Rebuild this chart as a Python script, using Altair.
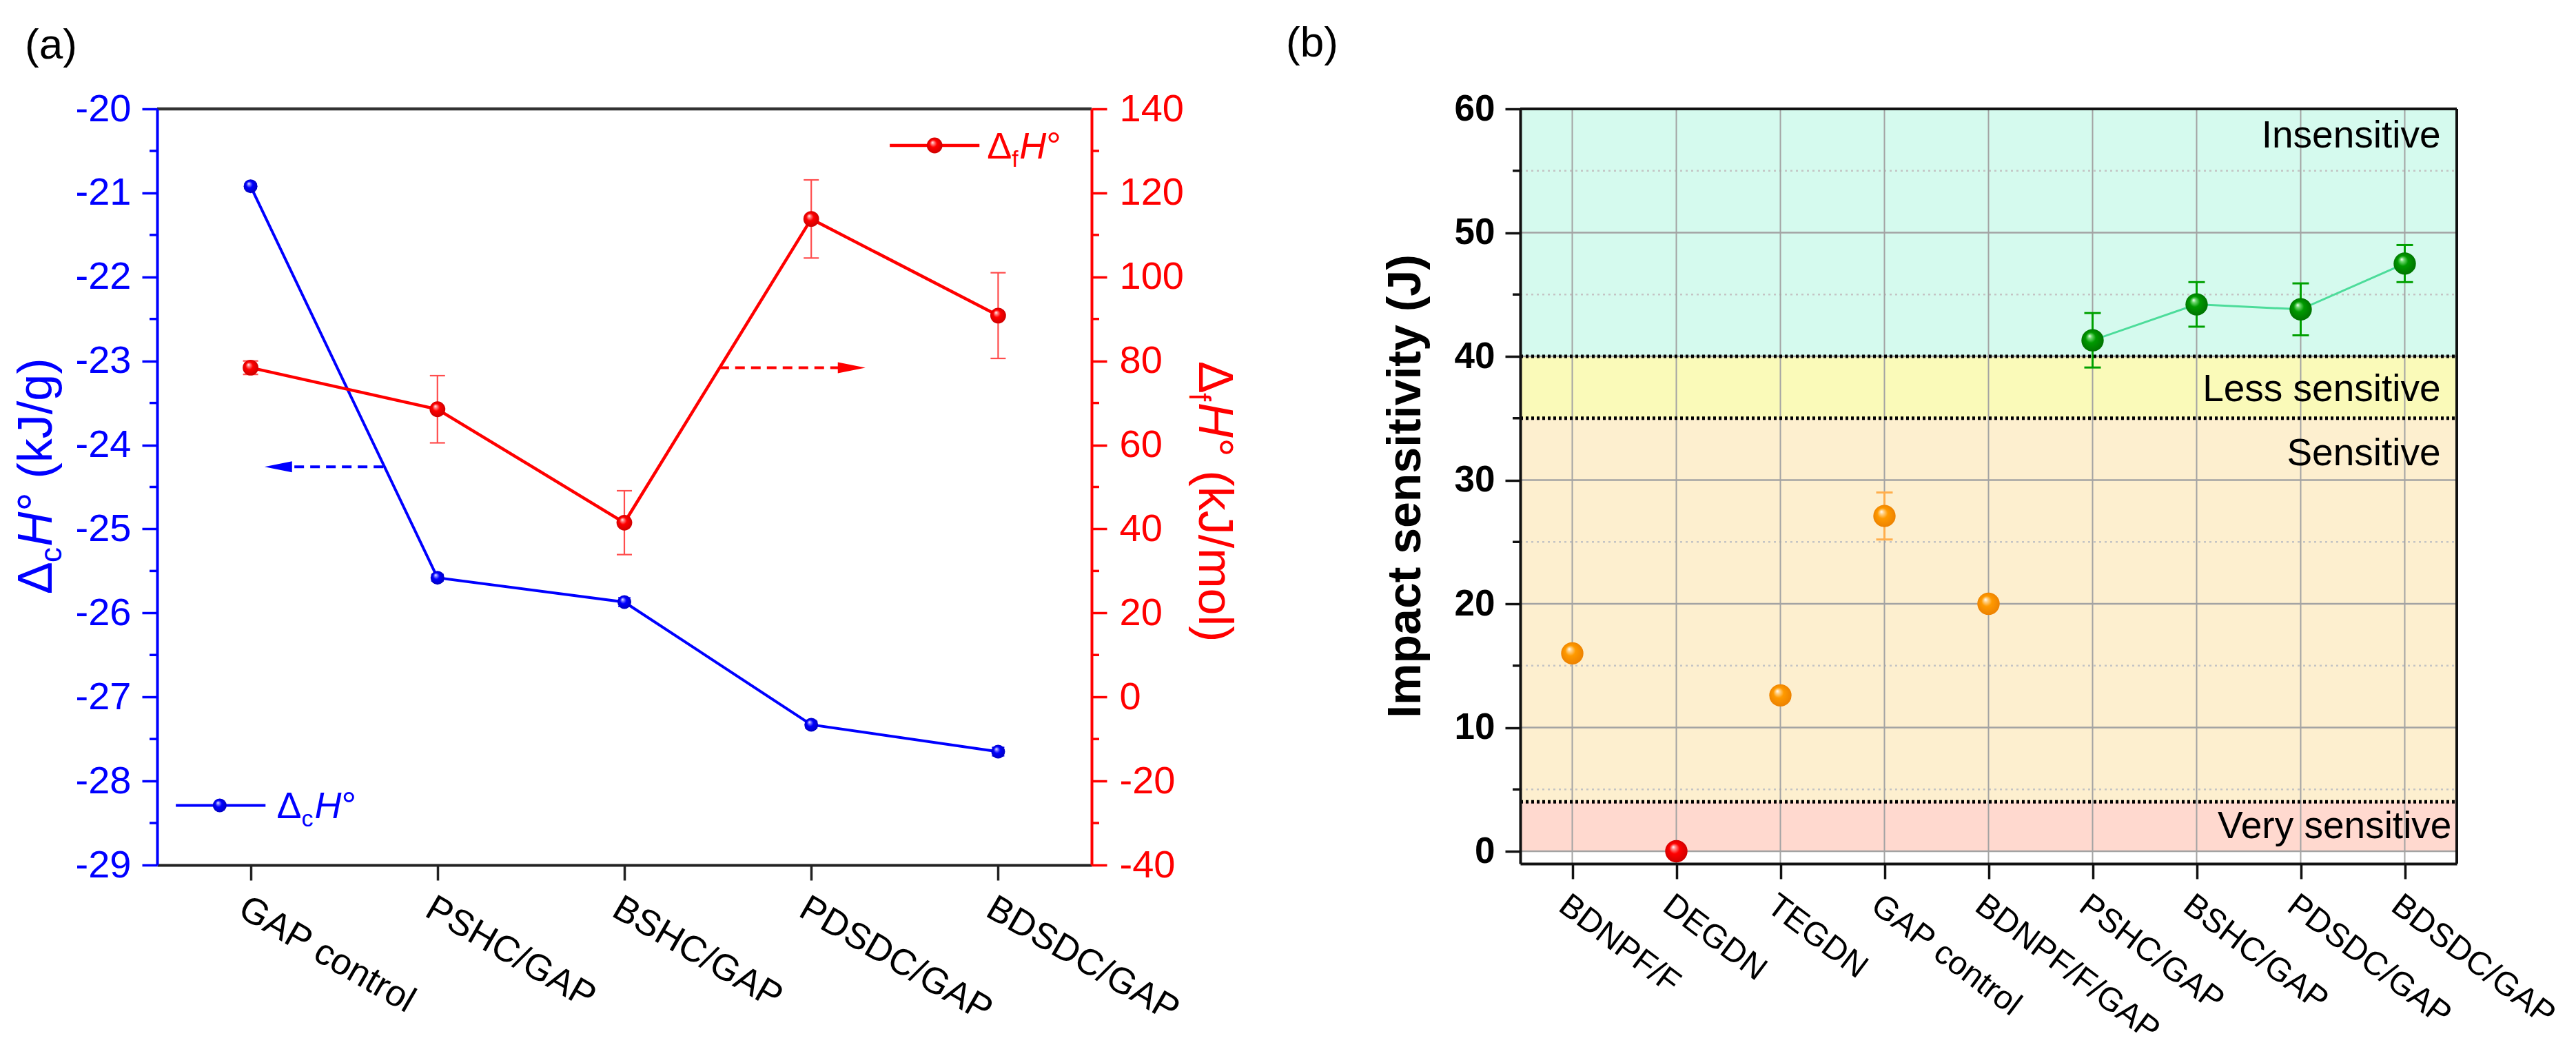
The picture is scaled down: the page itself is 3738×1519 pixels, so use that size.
import json
import altair as alt
import pandas as pd

FONT = "Liberation Sans"
BLUE = "#0000FF"
RED = "#FF0000"

# ---- (a) combustion and formation enthalpies ----
samples_a = ["GAP control", "PSHC/GAP", "BSHC/GAP", "PDSDC/GAP", "BDSDC/GAP"]
combustion_h = [-20.92, -25.58, -25.87, -27.33, -27.65]   # kJ/g
combustion_err = [0.03, 0.04, 0.05, 0.04, 0.05]
formation_h = [78.4, 68.5, 41.5, 113.8, 90.8]             # kJ/mol
formation_err = [1.6, 8.0, 7.6, 9.3, 10.2]

# ---- (b) impact sensitivity ----
samples_b = ["BDNPF/F", "DEGDN", "TEGDN", "GAP control", "BDNPF/F/GAP",
             "PSHC/GAP", "BSHC/GAP", "PDSDC/GAP", "BDSDC/GAP"]
impact_j = [16.0, 0.0, 12.6, 27.1, 20.0, 41.3, 44.2, 43.8, 47.5]
impact_err = [0.0, 0.0, 0.0, 1.9, 0.0, 2.2, 1.8, 2.1, 1.5]
impact_class = ["Sensitive", "Very sensitive", "Sensitive", "Sensitive", "Sensitive",
                "Insensitive", "Insensitive", "Insensitive", "Insensitive"]

band_names = ["Very sensitive", "Sensitive", "Less sensitive", "Insensitive"]
band_low = [0, 4, 35, 40]
band_high = [4, 35, 40, 60]
thresholds_j = [4, 35, 40]

band_colors = ["#FFD9CF", "#FDEFCF", "#FAFAB9", "#D5FAEE"]


def sphere(light, base, dark):
    """Radial gradient giving the glossy ball look of the markers."""
    return {
        "gradient": "radial", "x1": 0.36, "y1": 0.3, "r1": 0.0,
        "x2": 0.5, "y2": 0.5, "r2": 0.55,
        "stops": [
            {"offset": 0.0, "color": "#ffffff"},
            {"offset": 0.16, "color": light},
            {"offset": 0.42, "color": base},
            {"offset": 1.0, "color": dark},
        ],
    }


BALL_BLUE = sphere("#8a8aff", "#0000ff", "#0000b8")
BALL_RED = sphere("#ff8a8a", "#ff0000", "#c80000")
BALL_GREEN = sphere("#6fd86f", "#009a00", "#006e00")
BALL_ORANGE = sphere("#ffd28a", "#ff9a00", "#ea7e00")

one = pd.DataFrame({"k": [0]})


def rich_text(pieces, x, y, data=one, angle=0, color="black"):
    """Several text runs sharing one anchor, offset along the writing direction."""
    out = []
    for text, dx, dy, size, style in pieces:
        kw = dict(text=text, dx=dx, dy=dy, fontSize=size, font=FONT, color=color,
                  align="left", baseline="alphabetic")
        if angle:
            kw["angle"] = angle
        if style:
            kw["fontStyle"] = style
        out.append(alt.Chart(data).mark_text(**kw).encode(x=x, y=y))
    return out


# =====================================================================
# Panel (a)
# =====================================================================
W_A, H_A = 1356, 1097

da = pd.DataFrame({"idx": list(range(len(samples_a))), "sample": samples_a,
                   "dc": combustion_h, "dce": combustion_err,
                   "df": formation_h, "dfe": formation_err})
da["dc_lo"] = da["dc"] - da["dce"]
da["dc_hi"] = da["dc"] + da["dce"]
da["df_lo"] = da["df"] - da["dfe"]
da["df_hi"] = da["df"] + da["dfe"]

xa_scale = alt.Scale(domain=[-0.5, len(samples_a) - 0.5], nice=False, zero=False)
xa_axis = alt.Axis(values=list(range(len(samples_a))),
                   labelExpr=json.dumps(samples_a) + "[datum.value]",
                   title=None, grid=False, domainColor="#222222", domainWidth=4,
                   tickColor="#222222", tickWidth=3.5, tickSize=22,
                   labelAngle=30, labelAlign="left", labelBaseline="top",
                   labelFont=FONT, labelFontSize=53, labelColor="black", labelLimit=0,
                   labelPadding=14, labelFlush=False, labelOverlap=False, zindex=1)


def xa(field):
    return alt.X(f"{field}:Q", scale=xa_scale, axis=xa_axis)


ycomb_scale = alt.Scale(domain=[-29, -20], nice=False, zero=False)
ycomb_axis = alt.Axis(orient="left", values=list(range(-29, -19)),
                      labelExpr="'' + datum.value", title=None, grid=False,
                      domainColor=BLUE, domainWidth=4, tickColor=BLUE, tickWidth=3.5,
                      tickSize=22, labelColor=BLUE, labelFont=FONT, labelFontSize=56,
                      labelPadding=16, labelFlush=False, labelOverlap=False, zindex=1)

yform_scale = alt.Scale(domain=[-40, 140], nice=False, zero=False)
yform_axis = alt.Axis(orient="right", values=list(range(-40, 141, 20)),
                      labelExpr="'' + datum.value", title=None, grid=False,
                      domainColor=RED, domainWidth=4, tickColor=RED, tickWidth=3.5,
                      tickSize=22, labelColor=RED, labelFont=FONT, labelFontSize=56,
                      labelPadding=18, labelFlush=False, labelOverlap=False, zindex=1)


def yc(field):
    return alt.Y(f"{field}:Q", scale=ycomb_scale, axis=ycomb_axis)


def yf(field):
    return alt.Y(f"{field}:Q", scale=yform_scale, axis=yform_axis)


base_a = alt.Chart(da)

# --- combustion enthalpy (blue, left axis) ---
comb_minor = alt.Chart(pd.DataFrame({"v": [v + 0.5 for v in range(-29, -20)]})).mark_rule(
    color=BLUE, strokeWidth=3.5).encode(x=alt.value(-11), x2=alt.value(0), y=yc("v"))
comb_line = base_a.mark_line(color=BLUE, strokeWidth=4).encode(x=xa("idx"), y=yc("dc"))
comb_err = base_a.mark_rule(color=BLUE, strokeWidth=2).encode(x=xa("idx"), y=yc("dc_lo"), y2="dc_hi")
comb_cap_hi = base_a.mark_rule(color=BLUE, strokeWidth=2, xOffset=-9, x2Offset=9).encode(
    x=xa("idx"), x2="idx", y=yc("dc_hi"))
comb_cap_lo = base_a.mark_rule(color=BLUE, strokeWidth=2, xOffset=-9, x2Offset=9).encode(
    x=xa("idx"), x2="idx", y=yc("dc_lo"))
comb_pts = base_a.mark_point(shape="circle", filled=True, fill=BALL_BLUE, size=400,
                             strokeWidth=0, opacity=1).encode(x=xa("idx"), y=yc("dc"))

comb_arrow_df = pd.DataFrame({"xs": [0.71], "xe": [0.16], "xh": [0.148], "y": [-24.26]})
comb_arrow = alt.Chart(comb_arrow_df).mark_rule(color=BLUE, strokeWidth=4, strokeDash=[14, 9]).encode(
    x=xa("xs"), x2="xe", y=yc("y"))
comb_head = alt.Chart(comb_arrow_df).mark_point(shape="M -1 0 L 1 -0.4 L 1 0.4 Z", filled=True,
                                                size=1600, color=BLUE, opacity=1, strokeWidth=0).encode(
    x=xa("xh"), y=yc("y"))

comb_key_df = pd.DataFrame({"kx": [-0.40, 0.08], "ky": [-28.29, -28.29]})
comb_key_line = alt.Chart(comb_key_df).mark_line(color=BLUE, strokeWidth=4).encode(x=xa("kx"), y=yc("ky"))
comb_key_pt = alt.Chart(pd.DataFrame({"kx": [-0.165], "ky": [-28.29]})).mark_point(
    shape="circle", filled=True, fill=BALL_BLUE, size=400, strokeWidth=0, opacity=1).encode(
    x=xa("kx"), y=yc("ky"))
comb_key_text = rich_text(
    [("Δ", 0, 19, 54, None), ("c", 36, 31, 34, None), ("H", 55, 19, 54, "italic"), ("°", 94, 19, 54, None)],
    x=xa("kx"), y=yc("ky"), data=pd.DataFrame({"kx": [0.14], "ky": [-28.29]}), color=BLUE)

comb_group = alt.layer(comb_minor, comb_line, comb_err, comb_cap_hi, comb_cap_lo, comb_pts,
                       comb_arrow, comb_head, comb_key_line, comb_key_pt, *comb_key_text)

# --- formation enthalpy (red, right axis) ---
form_minor = alt.Chart(pd.DataFrame({"v": list(range(-30, 140, 20))})).mark_rule(
    color=RED, strokeWidth=3.5).encode(x=alt.value(W_A), x2=alt.value(W_A + 11), y=yf("v"))
form_line = base_a.mark_line(color=RED, strokeWidth=4.5).encode(x=xa("idx"), y=yf("df"))
form_err = base_a.mark_rule(color="#ff4d4d", strokeWidth=2.2).encode(x=xa("idx"), y=yf("df_lo"), y2="df_hi")
form_cap_hi = base_a.mark_rule(color="#ff4d4d", strokeWidth=2.2, xOffset=-11, x2Offset=11).encode(
    x=xa("idx"), x2="idx", y=yf("df_hi"))
form_cap_lo = base_a.mark_rule(color="#ff4d4d", strokeWidth=2.2, xOffset=-11, x2Offset=11).encode(
    x=xa("idx"), x2="idx", y=yf("df_lo"))
form_pts = base_a.mark_point(shape="circle", filled=True, fill=BALL_RED, size=520,
                             strokeWidth=0, opacity=1).encode(x=xa("idx"), y=yf("df"))

form_arrow_df = pd.DataFrame({"xs": [2.508], "xe": [3.2], "xh": [3.216], "y": [78.4]})
form_arrow = alt.Chart(form_arrow_df).mark_rule(color=RED, strokeWidth=4, strokeDash=[14, 9]).encode(
    x=xa("xs"), x2="xe", y=yf("y"))
form_head = alt.Chart(form_arrow_df).mark_point(shape="M 1 0 L -1 -0.4 L -1 0.4 Z", filled=True,
                                                size=1600, color=RED, opacity=1, strokeWidth=0).encode(
    x=xa("xh"), y=yf("y"))

form_key_df = pd.DataFrame({"kx": [3.42, 3.90], "ky": [131.3, 131.3]})
form_key_line = alt.Chart(form_key_df).mark_line(color=RED, strokeWidth=4.5).encode(x=xa("kx"), y=yf("ky"))
form_key_pt = alt.Chart(pd.DataFrame({"kx": [3.66], "ky": [131.3]})).mark_point(
    shape="circle", filled=True, fill=BALL_RED, size=520, strokeWidth=0, opacity=1).encode(
    x=xa("kx"), y=yf("ky"))
form_key_text = rich_text(
    [("Δ", 0, 19, 54, None), ("f", 36, 31, 34, None), ("H", 47, 19, 54, "italic"), ("°", 86, 19, 54, None)],
    x=xa("kx"), y=yf("ky"), data=pd.DataFrame({"kx": [3.94], "ky": [131.3]}), color=RED)

form_group = alt.layer(form_minor, form_err, form_cap_hi, form_cap_lo, form_line, form_pts,
                       form_arrow, form_head, form_key_line, form_key_pt, *form_key_text)

# --- frame, axis titles and panel tag ---
top_frame_a = alt.Chart(one).mark_rule(color="#333333", strokeWidth=4.5).encode(
    x=alt.value(0), x2=alt.value(W_A), y=alt.value(0))
left_title = rich_text(
    [("Δ", 0, 0, 70, None), ("c", 46, 14, 44, None), ("H", 69, 0, 70, "italic"), ("° (kJ/g)", 120, 0, 70, None)],
    x=alt.value(-153), y=alt.value(704), angle=270, color=BLUE)
right_title = rich_text(
    [("Δ", 0, 0, 70, None), ("f", 46, 14, 44, None), ("H", 60, 0, 70, "italic"), ("° (kJ/mol)", 111, 0, 70, None)],
    x=alt.value(W_A + 156), y=alt.value(366), angle=90, color=RED)
tag_a = alt.Chart(one).mark_text(text="(a)", fontSize=62, font=FONT, align="center",
                                 baseline="middle", color="black").encode(
    x=alt.value(-154), y=alt.value(-92))

panel_a = alt.layer(comb_group, form_group, top_frame_a, *left_title, *right_title, tag_a).resolve_scale(
    y="independent").properties(width=W_A, height=H_A)

# =====================================================================
# Panel (b)
# =====================================================================
W_B, H_B = 1359, 1095

db = pd.DataFrame({"idx": list(range(len(samples_b))), "sample": samples_b,
                   "j": impact_j, "je": impact_err, "cls": impact_class})
db["lo"] = db["j"] - db["je"]
db["hi"] = db["j"] + db["je"]

xb_scale = alt.Scale(domain=[-0.5, len(samples_b) - 0.5], nice=False, zero=False)
xb_axis = alt.Axis(values=list(range(len(samples_b))),
                   labelExpr=json.dumps(samples_b) + "[datum.value]",
                   title=None, grid=False, domainColor="#111111", domainWidth=4,
                   tickColor="#111111", tickWidth=3.5, tickSize=22,
                   labelAngle=37, labelAlign="left", labelBaseline="top",
                   labelFont=FONT, labelFontSize=48, labelColor="black", labelLimit=0,
                   labelPadding=14, labelFlush=False, labelOverlap=False, zindex=1)
yi_scale = alt.Scale(domain=[-1, 60], nice=False, zero=False)
yi_axis = alt.Axis(orient="left", values=list(range(0, 61, 10)), title=None, grid=False,
                   domainColor="#111111", domainWidth=4, tickColor="#111111", tickWidth=3.5,
                   tickSize=22, labelColor="black", labelFont=FONT, labelFontSize=53,
                   labelFontWeight="bold", labelPadding=15, labelFlush=False,
                   labelOverlap=False, zindex=1)


def xb(field):
    return alt.X(f"{field}:Q", scale=xb_scale, axis=xb_axis)


def yi(field):
    return alt.Y(f"{field}:Q", scale=yi_scale, axis=yi_axis)


bands_df = pd.DataFrame({"name": band_names, "lo": band_low, "hi": band_high})
bands = alt.Chart(bands_df).mark_rect(opacity=1).encode(
    x=alt.value(0), x2=alt.value(W_B), y=yi("lo"), y2="hi",
    color=alt.Color("name:N", scale=alt.Scale(domain=band_names, range=band_colors), legend=None))

minor_grid = alt.Chart(pd.DataFrame({"v": list(range(5, 60, 10))})).mark_rule(
    color="#c4c4c4", strokeWidth=2.5, strokeDash=[3, 5]).encode(x=alt.value(0), x2=alt.value(W_B), y=yi("v"))
major_grid = alt.Chart(pd.DataFrame({"v": list(range(0, 60, 10))})).mark_rule(
    color="#a3a3a3", strokeWidth=2.5).encode(x=alt.value(0), x2=alt.value(W_B), y=yi("v"))
vert_grid = alt.Chart(pd.DataFrame({"idx": list(range(len(samples_b)))})).mark_rule(
    color="#a3a3a3", strokeWidth=2).encode(x=xb("idx"), y=alt.value(0), y2=alt.value(H_B))
minor_ticks_b = alt.Chart(pd.DataFrame({"v": list(range(5, 60, 10))})).mark_rule(
    color="#111111", strokeWidth=3.5).encode(x=alt.value(-11), x2=alt.value(0), y=yi("v"))

thresholds = alt.Chart(pd.DataFrame({"v": thresholds_j})).mark_rule(
    color="black", strokeWidth=5, strokeDash=[4, 4]).encode(x=alt.value(0), x2=alt.value(W_B), y=yi("v"))

band_text_df = pd.DataFrame({"name": band_names,
                             "tx": [8.45, 8.345, 8.345, 8.345],
                             "ty": [2.0, 32.15, 37.35, 57.8]})
band_text = alt.Chart(band_text_df).mark_text(font=FONT, fontSize=55, align="right",
                                              baseline="middle", color="black").encode(
    x=xb("tx"), y=yi("ty"), text="name:N")

green = db[db["cls"] == "Insensitive"]
orange = db[db["cls"] == "Sensitive"]
red = db[db["cls"] == "Very sensitive"]

trend = alt.Chart(green).mark_line(color="#4cdc9a", strokeWidth=3).encode(x=xb("idx"), y=yi("j"))


def error_layers(frame, color):
    frame = frame[frame["je"] > 0]
    ch = alt.Chart(frame)
    return [
        ch.mark_rule(color=color, strokeWidth=3).encode(x=xb("idx"), y=yi("lo"), y2="hi"),
        ch.mark_rule(color=color, strokeWidth=3, xOffset=-12, x2Offset=12).encode(
            x=xb("idx"), x2="idx", y=yi("hi")),
        ch.mark_rule(color=color, strokeWidth=3, xOffset=-12, x2Offset=12).encode(
            x=xb("idx"), x2="idx", y=yi("lo")),
    ]


def balls(frame, fill):
    return alt.Chart(frame).mark_point(shape="circle", filled=True, fill=fill, size=1050,
                                       strokeWidth=0, opacity=1).encode(x=xb("idx"), y=yi("j"))


frame_b = [
    alt.Chart(one).mark_rule(color="#111111", strokeWidth=4).encode(
        x=alt.value(0), x2=alt.value(W_B), y=alt.value(0)),
    alt.Chart(one).mark_rule(color="#111111", strokeWidth=4).encode(
        x=alt.value(W_B), y=alt.value(0), y2=alt.value(H_B)),
]

title_b = alt.Chart(one).mark_text(text="Impact sensitivity (J)", fontSize=68, fontWeight="bold",
                                   font=FONT, angle=270, align="center", baseline="alphabetic",
                                   color="black").encode(x=alt.value(-145), y=alt.value(H_B / 2))
tag_b = alt.Chart(one).mark_text(text="(b)", fontSize=62, font=FONT, align="center",
                                 baseline="middle", color="black").encode(
    x=alt.value(-302), y=alt.value(-95))

panel_b = alt.layer(
    bands, minor_grid, major_grid, vert_grid, thresholds, band_text, minor_ticks_b,
    trend,
    *error_layers(orange, "#ffae4d"), *error_layers(green, "#00a000"),
    balls(orange, BALL_ORANGE), balls(red, BALL_RED), balls(green, BALL_GREEN),
    *frame_b, title_b, tag_b,
).properties(width=W_B, height=H_B)

chart = alt.hconcat(panel_a, panel_b, spacing=622, bounds="flush").properties(
    padding={"left": 19, "top": 32, "right": 12, "bottom": 8}, background="white"
).configure_view(strokeWidth=0)

chart.save("out.html", embed_options={"renderer": "svg", "actions": False})
